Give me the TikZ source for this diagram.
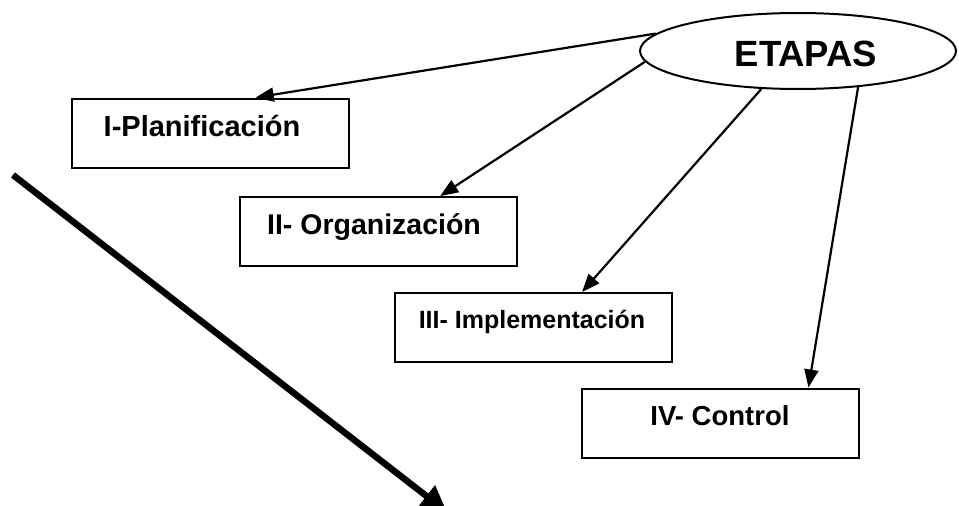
\documentclass[tikz,border=0pt]{standalone}
\usepackage{fontspec}
\setmainfont{Liberation Sans}
\usetikzlibrary{arrows.meta,shapes.geometric,calc}
\tikzset{
  stagebox/.style={draw,line width=2pt,minimum width=277pt,minimum height=69pt,inner sep=0pt},
  stagetext/.style={anchor=base,inner sep=0pt,font=\bfseries},
  conn/.style={line width=2.2pt,-{Triangle[length=18pt,width=14pt]}},
  bigarrow/.style={line width=6.5pt,-{Triangle[length=26pt,width=26pt]}}
}
\begin{document}
\begin{tikzpicture}[x=1pt,y=-1pt]
\useasboundingbox (0,0) rectangle (959,506);
\clip (0,0) rectangle (959,506);
\node[draw,ellipse,line width=2pt,minimum width=316pt,minimum height=76pt,inner sep=0pt] (ell) at (798,51) {};
\node[stagetext,font=\bfseries\fontsize{36.5}{40}\selectfont] (etxt) at (806,66) {ETAPAS};

\node[stagebox] (b1) at (210.5,133) {};
\node[stagebox] (b2) at (378,231.5) {};
\node[stagebox] (b3) at (533.5,327.5) {};
\node[stagebox] (b4) at (720,423) {};

\node[stagetext,font=\bfseries\fontsize{29}{32}\selectfont] (t1) at (202,136) {I-Planificación};
\node[stagetext,font=\bfseries\fontsize{28.5}{32}\selectfont] (t2) at (374,234) {II- Organización};
\node[stagetext,font=\bfseries\fontsize{25}{28}\selectfont] (t3) at (532,328) {III- Implementación};
\node[stagetext,font=\bfseries\fontsize{27.5}{30}\selectfont] (t4) at (720,425) {IV- Control};

\draw[conn] (ell.173) -- ($(b1.north west)!0.662!(b1.north east)$);
\draw[conn] (ell.184) -- ($(b2.north west)!0.723!(b2.north east)$);
\draw[conn] (ell.226.6) -- ($(b3.north west)!0.674!(b3.north east)$);
\draw[conn] (ell.329.7) -- ($(b4.north west)!0.817!(b4.north east)$);

\coordinate (s) at (13,175);
\coordinate (e) at (447,512);
\draw[bigarrow] (s) -- (e);
\end{tikzpicture}
\end{document}
